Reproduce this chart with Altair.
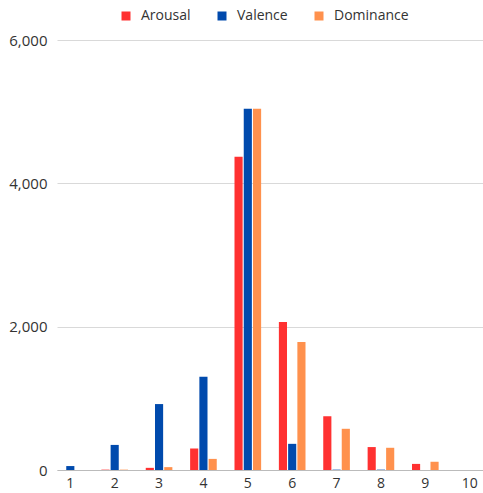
import altair as alt
import pandas as pd

categories = [1, 2, 3, 4, 5, 6, 7, 8, 9, 10]
arousal = [0, 5, 30, 300, 4370, 2065, 750, 320, 85, 0]
valence = [55, 350, 920, 1300, 5040, 365, 5, 5, 0, 0]
dominance = [0, 5, 40, 155, 5040, 1785, 575, 310, 115, 0]
series = ["Arousal", "Valence", "Dominance"]
colors = ["#FF3131", "#004AAD", "#FF914D"]

rows = []
for name, vals in zip(series, [arousal, valence, dominance]):
    for c, v in zip(categories, vals):
        rows.append({"cat": str(c), "series": name, "value": v})
df = pd.DataFrame(rows)

font = "Open Sans"

chart = alt.Chart(df).mark_bar().encode(
    x=alt.X("cat:N", sort=[str(c) for c in categories],
            scale=alt.Scale(paddingInner=0.4, paddingOuter=0),
            axis=alt.Axis(title=None, labelAngle=0, ticks=False, domain=True,
                          domainColor="#bbbbbb", labelFontSize=14,
                          labelColor="#333333", labelFont=font, labelPadding=6)),
    xOffset=alt.XOffset("series:N", sort=series,
                        scale=alt.Scale(paddingInner=0.12)),
    y=alt.Y("value:Q", scale=alt.Scale(domain=[0, 6000]),
            axis=alt.Axis(title=None, values=[0, 2000, 4000, 6000], format=",.0f",
                          ticks=False, domain=False, gridColor="#d9d9d9",
                          labelFontSize=15, labelColor="#333333", labelFont=font,
                          labelPadding=10)),
    color=alt.Color("series:N", sort=series,
                    scale=alt.Scale(domain=series, range=colors),
                    legend=alt.Legend(title=None, orient="none", direction="horizontal",
                                      legendX=62, legendY=-31, symbolType="square",
                                      symbolSize=81, symbolStrokeWidth=0,
                                      labelFontSize=14, labelColor="#333333",
                                      labelFont=font, columnPadding=24,
                                      labelOffset=8)),
).properties(
    width=426, height=430,
    autosize=alt.AutoSizeParams(type="none"),
    padding={"left": 57, "top": 40, "right": 0, "bottom": 23},
).configure_view(stroke=None).configure_axisX(grid=False)

chart.save("out.html", embed_options={"renderer": "svg", "actions": False})
